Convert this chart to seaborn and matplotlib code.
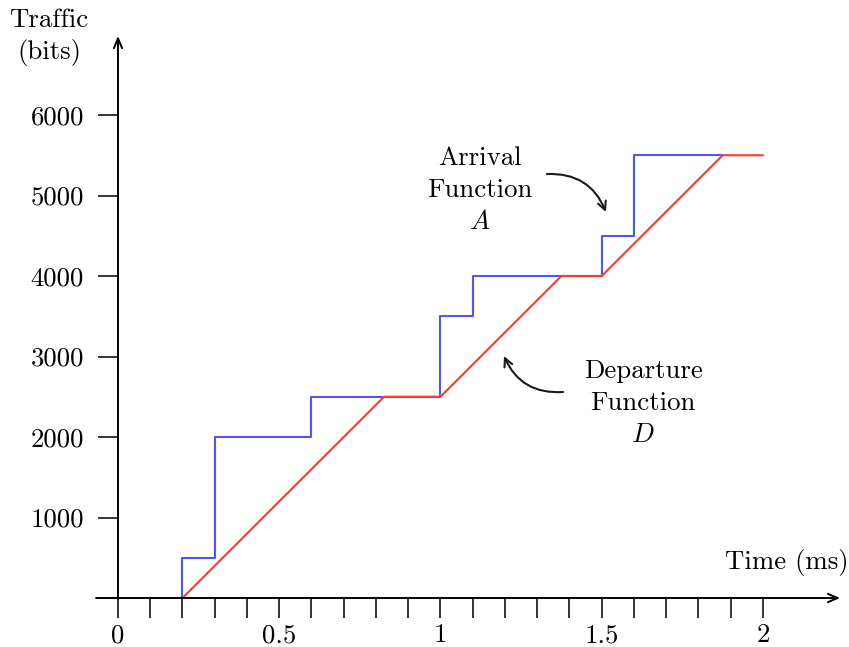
import matplotlib
matplotlib.use("Agg")
import matplotlib.pyplot as plt
import seaborn as sns
import pandas as pd

# ---- data ----
arrival_t = [0.2, 0.2, 0.3, 0.6, 1.0, 1.1, 1.5, 1.6, 1.875]
arrival_bits = [0, 500, 2000, 2500, 3500, 4000, 4500, 5500, 5500]
departure_t = [0.2, 0.825, 1.0, 1.375, 1.5, 1.875, 2.0]
departure_bits = [0, 2500, 2500, 4000, 4000, 5500, 5500]
x_major = [0, 0.5, 1, 1.5, 2]
x_major_labels = ["0", "0.5", "1", "1.5", "2"]
x_minor = [i / 10 for i in range(21)]
y_ticks = [1000, 2000, 3000, 4000, 5000, 6000]
y_tick_labels = ["1000", "2000", "3000", "4000", "5000", "6000"]

sns.set_style("white")
plt.rcParams["font.family"] = ["cmr10", "DejaVu Serif"]
plt.rcParams["mathtext.fontset"] = "cm"
plt.rcParams["axes.formatter.use_mathtext"] = True
plt.rcParams["text.color"] = "black"
plt.rcParams["xtick.color"] = "black"
plt.rcParams["ytick.color"] = "black"

FS = 19.3
fig = plt.figure(figsize=(8.49, 6.47), dpi=100)
ax = fig.add_axes([0, 0, 1, 1])

arr = pd.DataFrame({"t": arrival_t, "bits": arrival_bits})
dep = pd.DataFrame({"t": departure_t, "bits": departure_bits})

sns.lineplot(data=arr, x="t", y="bits", ax=ax, color="#5252ff", lw=1.5,
             drawstyle="steps-post", sort=False, estimator=None)
sns.lineplot(data=dep, x="t", y="bits", ax=ax, color="#ff3a28", lw=1.5,
             sort=False, estimator=None)

ax.set_xlim(-0.3659, 2.2667)
ax.set_ylim(-608.7, 7428.6)

for s in ax.spines.values():
    s.set_visible(False)
ax.spines["left"].set_position(("data", 0))
ax.spines["bottom"].set_position(("data", 0))

ax.set_xticks(x_major)
ax.set_xticklabels(x_major_labels, fontsize=FS)
ax.set_xticks(x_minor, minor=True)
ax.set_yticks(y_ticks)
ax.set_yticklabels(y_tick_labels, fontsize=FS)
ax.tick_params(axis="both", which="both", direction="out", length=14.4,
               width=1.1, color="black", labelcolor="black")
ax.tick_params(axis="x", which="both", bottom=True, top=False, pad=4)
ax.tick_params(axis="y", which="both", left=True, right=False, pad=10)
ax.set_xlabel("")
ax.set_ylabel("")
ax.grid(False)

# axis lines with arrowheads
astyle = dict(arrowstyle="->,head_length=0.7,head_width=0.3", lw=1.4,
              color="black", shrinkA=0, shrinkB=0)
ax.annotate("", xy=(2.239, 0), xytext=(-0.068, 0), arrowprops=astyle)
ax.annotate("", xy=(0, 6981), xytext=(0, -10), arrowprops=astyle)

# axis titles
ax.text(-0.214, 6969, "Traffic\n(bits)", fontsize=FS, ha="center",
        va="center", linespacing=1.35)
ax.text(2.074, 435, "Time (ms)", fontsize=FS, ha="center", va="center")

# annotations
ax.text(1.1225, 5068, "Arrival\nFunction\n$A$", fontsize=FS, ha="center",
        va="center", linespacing=1.45)
ax.text(1.628, 2422, "Departure\nFunction\n$D$", fontsize=FS, ha="center",
        va="center", linespacing=1.45)

cstyle = dict(arrowstyle="->,head_length=0.6,head_width=0.3", lw=1.5,
              color="#1a1a1a", shrinkA=0, shrinkB=0,
              connectionstyle="arc3,rad=-0.35")
ax.annotate("", xy=(1.513, 4795), xytext=(1.330, 5267), arrowprops=cstyle)
ax.annotate("", xy=(1.197, 3006), xytext=(1.380, 2559), arrowprops=cstyle)

fig.savefig("out.png", dpi=100)
